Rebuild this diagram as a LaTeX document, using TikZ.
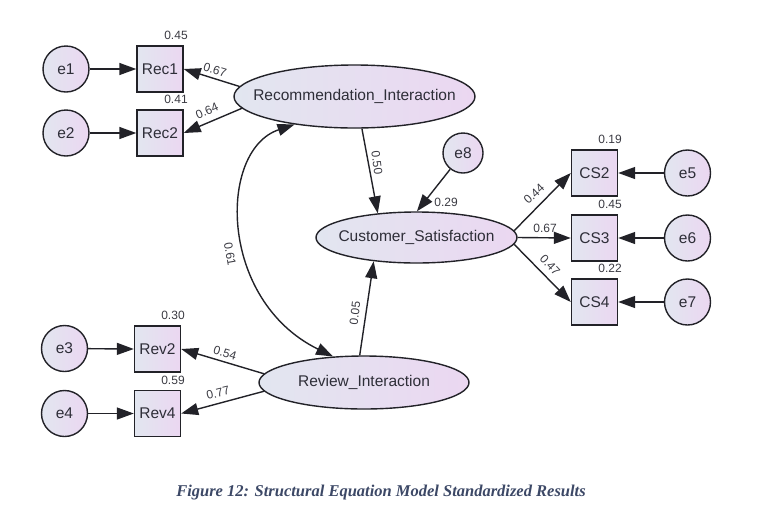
\documentclass[tikz,border=0pt]{standalone}
\usepackage{fontspec}
\setmainfont{Liberation Sans}
\newfontfamily\capfont{Liberation Serif}
\usetikzlibrary{shapes.geometric,arrows.meta}
\definecolor{gleft}{HTML}{E2E6F0}
\definecolor{gright}{HTML}{EBD7F1}
\definecolor{ink}{HTML}{222228}
\definecolor{txt}{HTML}{2E2E38}
\definecolor{lab}{HTML}{3A3A42}
\definecolor{capcol}{HTML}{3C4866}
\tikzset{
  grad/.style={left color=gleft, right color=gright},
  lat/.style={ellipse, draw=ink, line width=1.4pt, grad, inner sep=0pt, text=txt, font=\fontsize{15.5}{16}\selectfont},
  obs/.style={rectangle, draw=ink, line width=1.4pt, grad, minimum size=46pt, inner sep=0pt, text=txt, font=\fontsize{15.5}{16}\selectfont},
  err/.style={circle, draw=ink, line width=1.4pt, grad, minimum size=46pt, inner sep=0pt, text=txt, font=\fontsize{15.5}{16}\selectfont},
  lbl/.style={text=lab, inner sep=0pt, font=\fontsize{12}{12}\selectfont},
  tip/.style={Triangle[length=17pt,width=12pt]},
  arr/.style={draw=ink, line width=1.4pt, -{Triangle[length=17pt,width=12pt]}},
  darr/.style={draw=ink, line width=1.4pt, {Triangle[length=17pt,width=12pt]}-{Triangle[length=17pt,width=12pt]}},
}
\begin{document}
\begin{tikzpicture}[x=1pt,y=-1pt]
\useasboundingbox (0,0) rectangle (775,528);
% latent variables
\node[lat, minimum width=241pt, minimum height=63pt] (RI) at (354.5,96.5) {\makebox[0pt]{Recommendation\_Interaction}};
\node[lat, minimum width=201pt, minimum height=51pt] (CS) at (416.5,237.5) {\makebox[0pt]{Customer\_Satisfaction}};
\node[lat, minimum width=210pt, minimum height=53pt] (RV) at (364,382.5) {\makebox[0pt]{Review\_Interaction}};
% observed
\node[obs] (Rec1) at (160,69) {Rec1};
\node[obs] (Rec2) at (160,133) {Rec2};
\node[obs] (Rev2) at (157.5,349) {Rev2};
\node[obs] (Rev4) at (157.5,413.5) {Rev4};
\node[obs] (CS2) at (594.5,173) {CS2};
\node[obs] (CS3) at (594.5,238) {CS3};
\node[obs] (CS4) at (594.5,302) {CS4};
% errors
\node[err] (e1) at (66,69) {e1};
\node[err] (e2) at (66,133) {e2};
\node[err] (e3) at (64.5,348.5) {e3};
\node[err] (e4) at (64.5,413.5) {e4};
\node[err] (e5) at (687.5,173) {e5};
\node[err] (e6) at (687.5,238) {e6};
\node[err] (e7) at (687.5,302) {e7};
\node[err, minimum size=40pt] (e8) at (463,153) {e8};
% error arrows
\draw[arr] (e1) -- (Rec1);
\draw[arr] (e2) -- (Rec2);
\draw[arr] (e3) -- (Rev2.west);
\draw[arr] (e4) -- (Rev4);
\draw[arr] (e5) -- (CS2);
\draw[arr] (e6) -- (CS3);
\draw[arr] (e7) -- (CS4);
\draw[arr] (e8) -- (CS.89);
% loadings
\draw[arr] (RI.175) -- (Rec1.east);
\draw[arr] (RI.186) -- (Rec2.east);
\draw[arr] (RV.175) -- (Rev2.east);
\draw[arr] (RV.185) -- (Rev4.east);
\draw[arr] (CS.4) -- (CS2.west);
\draw[arr] (CS.east) -- (CS3.west);
\draw[arr] (CS.-4) -- (CS4.west);
% structural paths
\draw[arr] (RI.283) -- (CS.148);
\draw[arr] (RV.99) -- (CS.209);
\draw[darr] (RI.205) .. controls (218,150) and (218,300) .. (RV.140);
% labels
\node[lbl] (l1) at (176,35) {0.45};
\node[lbl] (l2) at (176,99) {0.41};
\node[lbl] (l3) at (173,315) {0.30};
\node[lbl] (l4) at (173,380) {0.59};
\node[lbl] (l5) at (610,139) {0.19};
\node[lbl] (l6) at (610,204) {0.45};
\node[lbl] (l7) at (610,268) {0.22};
\node[lbl, rotate=-17] (l8) at (215,70) {0.67};
\node[lbl, rotate=23] (l9) at (207,111) {0.64};
\node[lbl, rotate=-17] (l10) at (225,353) {0.54};
\node[lbl, rotate=14] (l11) at (218,393) {0.77};
\node[lbl, rotate=43] (l12) at (534,194) {0.44};
\node[lbl] (l13) at (545,228) {0.67};
\node[lbl, rotate=-47] (l14) at (550,265) {0.47};
\node[lbl] (l15) at (446,202) {0.29};
\node[lbl, rotate=-83] (l16) at (377,163) {0.50};
\node[lbl, rotate=83] (l17) at (355,313) {0.05};
\node[lbl, rotate=-80] (l18) at (230,254) {0.61};
% caption
\node[text=capcol, inner sep=0pt, font=\capfont\bfseries\itshape\fontsize{16.5}{17}\selectfont] (cap) at (381,493) {Figure 12: Structural Equation Model Standardized Results};
\end{tikzpicture}
\end{document}
